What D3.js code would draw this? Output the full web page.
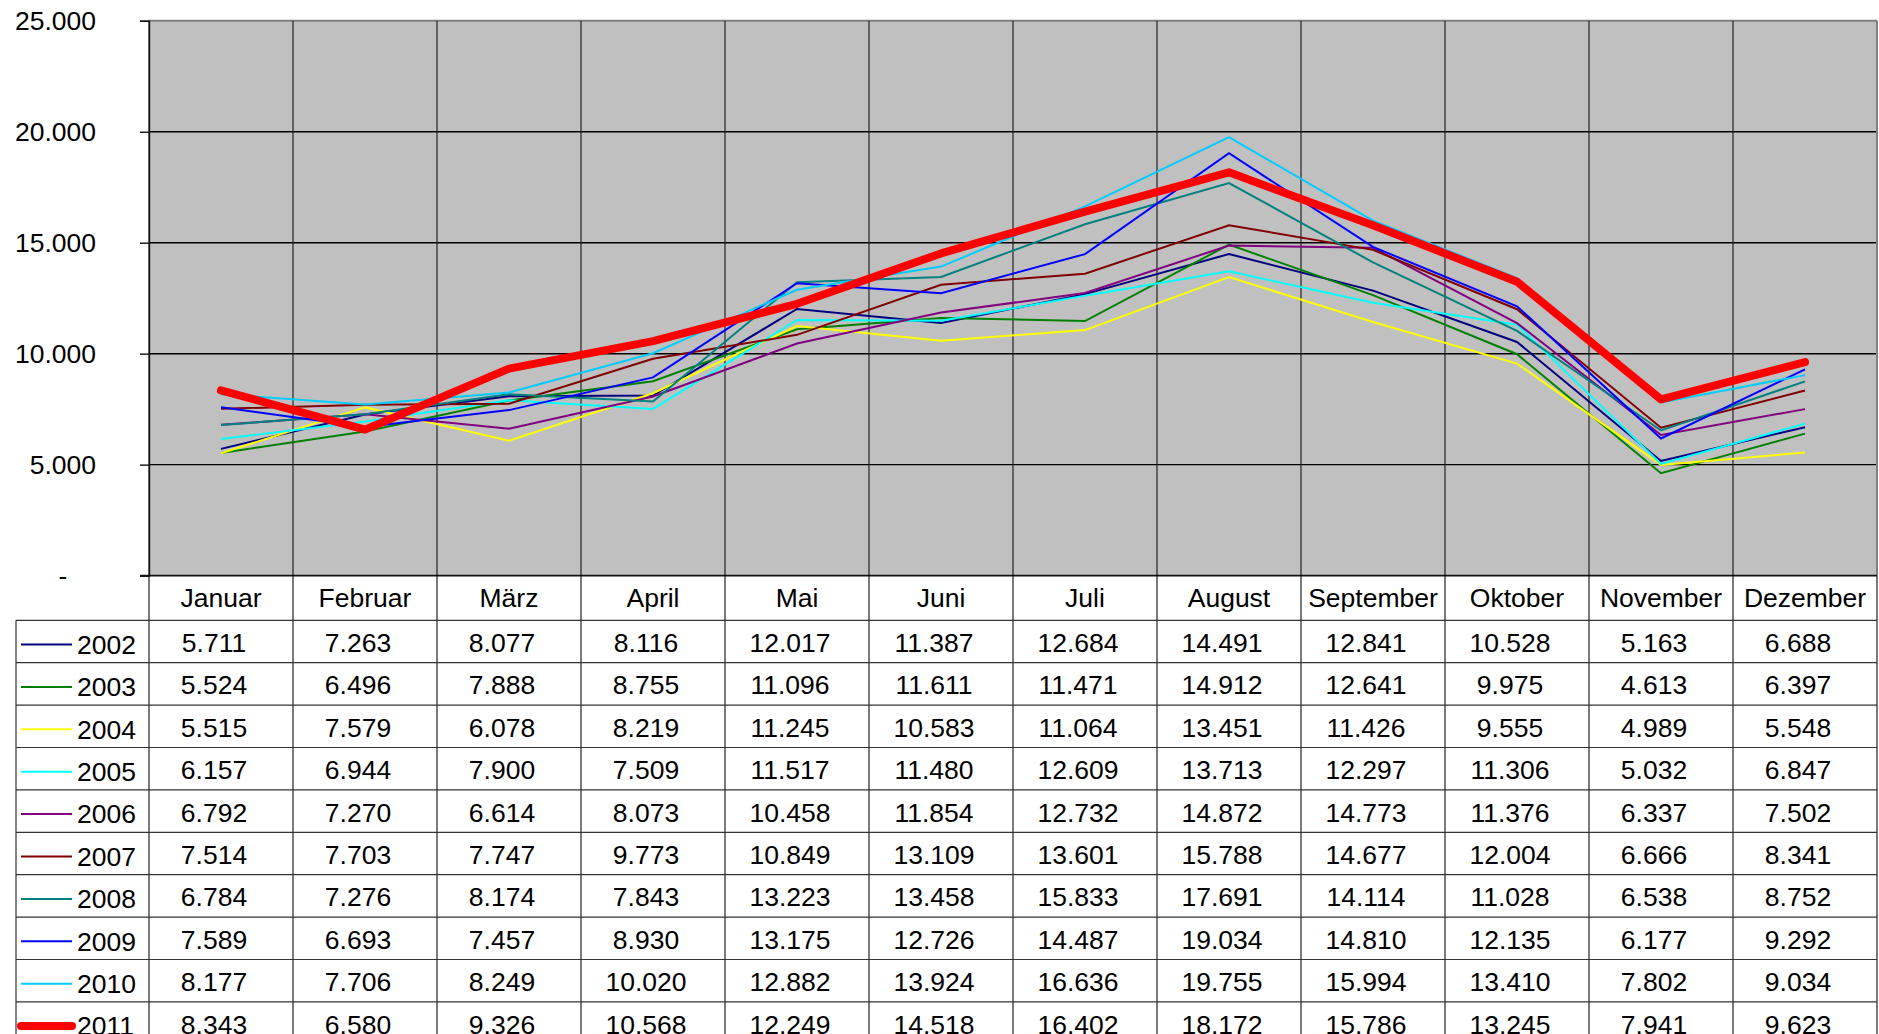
<!DOCTYPE html>
<html>
<head>
<meta charset="utf-8">
<script src="https://cdn.jsdelivr.net/npm/d3@7"></script>
<style>
  html, body { margin: 0; padding: 0; background: #fff; }
  svg { display: block; }
  text { font-family: "Liberation Sans", Arial, sans-serif; fill: #000; }
</style>
</head>
<body>
<svg id="chart" width="1879" height="1034"></svg>
<script>
// ---------- data ----------
const months = ["Januar","Februar","März","April","Mai","Juni","Juli","August","September","Oktober","November","Dezember"];
const years = ["2002","2003","2004","2005","2006","2007","2008","2009","2010","2011"];
const v2002 = [5711, 7263, 8077, 8116, 12017, 11387, 12684, 14491, 12841, 10528, 5163, 6688];
const v2003 = [5524, 6496, 7888, 8755, 11096, 11611, 11471, 14912, 12641, 9975, 4613, 6397];
const v2004 = [5515, 7579, 6078, 8219, 11245, 10583, 11064, 13451, 11426, 9555, 4989, 5548];
const v2005 = [6157, 6944, 7900, 7509, 11517, 11480, 12609, 13713, 12297, 11306, 5032, 6847];
const v2006 = [6792, 7270, 6614, 8073, 10458, 11854, 12732, 14872, 14773, 11376, 6337, 7502];
const v2007 = [7514, 7703, 7747, 9773, 10849, 13109, 13601, 15788, 14677, 12004, 6666, 8341];
const v2008 = [6784, 7276, 8174, 7843, 13223, 13458, 15833, 17691, 14114, 11028, 6538, 8752];
const v2009 = [7589, 6693, 7457, 8930, 13175, 12726, 14487, 19034, 14810, 12135, 6177, 9292];
const v2010 = [8177, 7706, 8249, 10020, 12882, 13924, 16636, 19755, 15994, 13410, 7802, 9034];
const v2011 = [8343, 6580, 9326, 10568, 12249, 14518, 16402, 18172, 15786, 13245, 7941, 9623];
const yTicks = [0, 5000, 10000, 15000, 20000, 25000];

const colors = ["#000080","#008000","#FFFF00","#00FFFF","#800080","#800000","#008080","#0000FF","#00CCFF","#FF0000"];
const widths = [2,2,2,2,2,2,2,2,2,8];

const allValues = [v2002,v2003,v2004,v2005,v2006,v2007,v2008,v2009,v2010,v2011];
const series = years.map((yr, i) => ({ year: yr, values: allValues[i], color: colors[i], width: widths[i] }));

// ---------- layout ----------
const plotLeft = 149, plotRight = 1877, plotTop = 20.8, plotBottom = 575.6;
const tableTop = 620.3, rowH = 42.4, tableLeft = 16;
const fontSize = 26.5;

const svg = d3.select("#chart");
const loc = d3.formatLocale({ decimal: ",", thousands: ".", grouping: [3], currency: ["", "€"] });
const fmt = loc.format(",d");

const x = d3.scaleBand().domain(months).range([plotLeft, plotRight]).padding(0);
const y = d3.scaleLinear().domain([0, 25000]).range([plotBottom, plotTop]);
const rows = d3.scaleBand().domain(years).range([tableTop, tableTop + rowH * years.length]).padding(0);

// plot background
svg.append("rect")
  .attr("x", plotLeft).attr("y", plotTop)
  .attr("width", plotRight - plotLeft).attr("height", plotBottom - plotTop)
  .attr("fill", "#C0C0C0");

// horizontal gridlines
svg.append("g").selectAll("line")
  .data(yTicks.filter(d => d > 0 && d < 25000))
  .join("line")
  .attr("x1", plotLeft).attr("x2", plotRight)
  .attr("y1", d => y(d)).attr("y2", d => y(d))
  .attr("stroke", "#000").attr("stroke-width", 1.4);

// plot border top/right (gray)
svg.append("line").attr("x1", plotLeft).attr("x2", plotRight).attr("y1", plotTop).attr("y2", plotTop)
  .attr("stroke", "#808080").attr("stroke-width", 2);
svg.append("line").attr("x1", plotRight).attr("x2", plotRight).attr("y1", plotTop).attr("y2", plotBottom)
  .attr("stroke", "#808080").attr("stroke-width", 2);

// vertical column lines (plot + table)
const tableBottom = tableTop + rowH * years.length;
const colEdges = months.map(m => x(m)).concat([plotRight]);
svg.append("g").selectAll("line")
  .data(colEdges.slice(0, -1))
  .join("line")
  .attr("x1", d => d).attr("x2", d => d)
  .attr("y1", plotTop).attr("y2", tableBottom)
  .attr("stroke", "#222").attr("stroke-width", 1.2);
svg.append("line").attr("x1", plotRight).attr("x2", plotRight).attr("y1", plotBottom).attr("y2", tableBottom)
  .attr("stroke", "#222").attr("stroke-width", 1.2);

// table left border
svg.append("line").attr("x1", tableLeft).attr("x2", tableLeft).attr("y1", tableTop).attr("y2", tableBottom)
  .attr("stroke", "#333").attr("stroke-width", 1.2);

// table horizontal lines
svg.append("line").attr("x1", plotLeft - 9).attr("x2", plotRight).attr("y1", plotBottom).attr("y2", plotBottom)
  .attr("stroke", "#111").attr("stroke-width", 1.6);
svg.append("g").selectAll("line")
  .data(years.map(yr => rows(yr)).concat([tableBottom]))
  .join("line")
  .attr("x1", tableLeft).attr("x2", plotRight)
  .attr("y1", d => d).attr("y2", d => d)
  .attr("stroke", "#333").attr("stroke-width", 1.2);

// y axis
const yAxis = d3.axisLeft(y)
  .tickValues(yTicks)
  .tickSize(9)
  .tickPadding(44)
  .tickFormat(d => d === 0 ? "-" : fmt(d));
const gy = svg.append("g").attr("transform", `translate(${plotLeft},0)`).call(yAxis);
gy.select(".domain").attr("stroke", "#111").attr("stroke-width", 1.4);
gy.selectAll(".tick line").attr("stroke", "#111").attr("stroke-width", 1.4);
gy.selectAll(".tick text")
  .attr("font-size", fontSize)
  .attr("font-family", '"Liberation Sans", Arial, sans-serif')
  .attr("fill", "#000")
  .attr("dy", null)
  .attr("dominant-baseline", "central");
gy.selectAll(".tick").filter(d => d === 0).select("text")
  .attr("x", 63 - plotLeft).attr("text-anchor", "middle");

// lines
const line = d3.line()
  .x((d, i) => x(months[i]) + x.bandwidth() / 2)
  .y(d => y(d));

svg.append("g").selectAll("path")
  .data(series)
  .join("path")
  .attr("d", d => line(d.values))
  .attr("fill", "none")
  .attr("stroke", d => d.color)
  .attr("stroke-width", d => d.width)
  .attr("stroke-linejoin", d => d.width > 2 ? "round" : "miter")
  .attr("stroke-linecap", d => d.width > 2 ? "round" : "butt");

// header row (month names)
svg.append("g").selectAll("text")
  .data(months)
  .join("text")
  .attr("x", d => x(d) + x.bandwidth() / 2)
  .attr("y", (plotBottom + tableTop) / 2 + 9.3)
  .attr("text-anchor", "middle")
  .attr("font-size", fontSize)
  .text(d => d);

// table rows
const rowG = svg.append("g").selectAll("g")
  .data(series)
  .join("g")
  .attr("transform", d => `translate(0,${rows(d.year)})`);

rowG.append("line")
  .attr("x1", d => d.width > 2 ? 21 : 21)
  .attr("x2", d => d.width > 2 ? 72 : 72)
  .attr("y1", rowH / 2 + 3).attr("y2", rowH / 2 + 3)
  .attr("stroke", d => d.color)
  .attr("stroke-width", d => d.width)
  .attr("stroke-linecap", d => d.width > 2 ? "round" : "butt");

rowG.append("text")
  .attr("x", 77)
  .attr("y", rowH / 2 + 12.3)
  .attr("font-size", fontSize)
  .text(d => d.year);

rowG.selectAll("text.val")
  .data(d => d.values)
  .join("text")
  .attr("class", "val")
  .attr("x", (d, i) => x(months[i]) + x.bandwidth() / 2 - 7)
  .attr("y", rowH / 2 + 10.5)
  .attr("text-anchor", "middle")
  .attr("font-size", fontSize)
  .text(d => fmt(d));
</script>
</body>
</html>
